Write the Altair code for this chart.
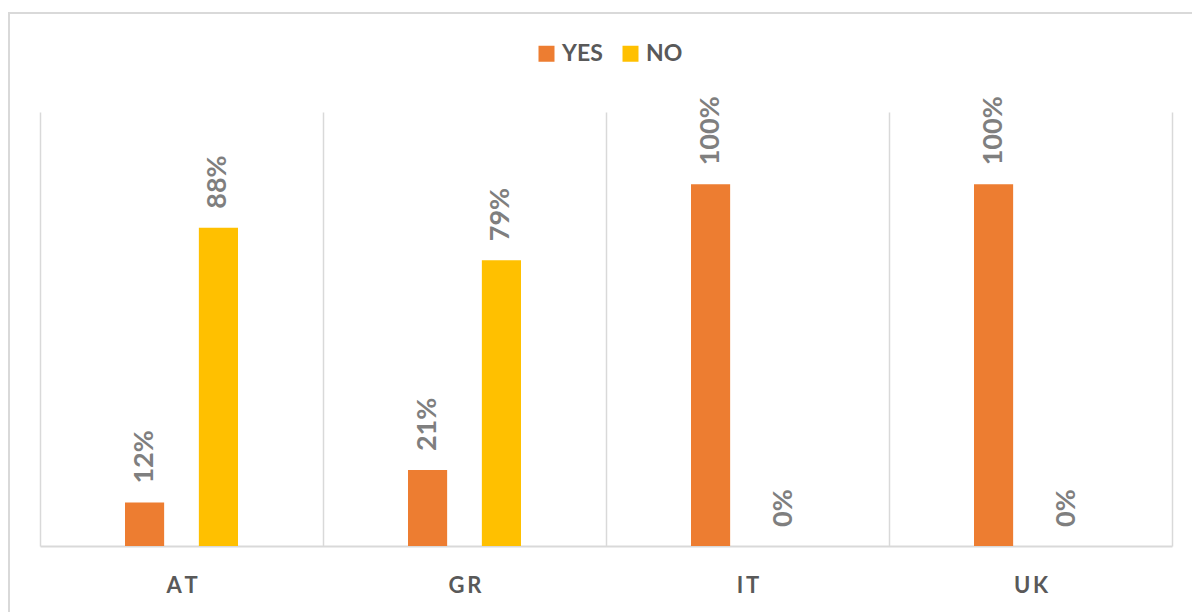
import altair as alt
import pandas as pd

countries = ["AT", "GR", "IT", "UK"]
series = ["YES", "NO"]
yes_vals = [12, 21, 100, 100]
no_vals = [88, 79, 0, 0]
colors = ["#ED7D31", "#FFC000"]

rows = []
for i, c in enumerate(countries):
    rows.append({"country": c, "series": "YES", "value": yes_vals[i] / 100, "label": f"{yes_vals[i]}%"})
    rows.append({"country": c, "series": "NO", "value": no_vals[i] / 100, "label": f"{no_vals[i]}%"})
df = pd.DataFrame(rows)

FONT = "Lato"

x_enc = alt.X(
    "country:N",
    sort=countries,
    title=None,
    scale=alt.Scale(paddingInner=0, paddingOuter=0),
    axis=alt.Axis(
        labelAngle=0,
        labelFont=FONT,
        labelFontSize=22,
        labelFontWeight="bold",
        labelColor="#595959",
        labelPadding=29,
        labelExpr="join(split(datum.label, ''), '\u2009')",
        ticks=False,
        domainColor="#d9d9d9",
        domainWidth=2,
        grid=True,
        gridColor="#d9d9d9",
        gridWidth=1.5,
        tickBand="extent",
    ),
)
xoff = alt.XOffset("series:N", sort=series,
                   scale=alt.Scale(range=[85, 198], paddingInner=0.47, paddingOuter=0))
y_enc = alt.Y("value:Q", scale=alt.Scale(domain=[0, 1.2]), axis=None)

bars = alt.Chart(df).mark_bar().encode(
    x=x_enc,
    xOffset=xoff,
    y=y_enc,
    color=alt.Color(
        "series:N",
        sort=series,
        scale=alt.Scale(domain=series, range=colors),
        legend=alt.Legend(
            title=None,
            orient="none",
            legendX=495,
            legendY=-70,
            direction="horizontal",
            symbolType="square",
            symbolSize=256,
            symbolStrokeWidth=0,
            labelFont=FONT,
            labelFontSize=23,
            labelFontWeight="bold",
            labelColor="#595959",
            columnPadding=16,
            labelOffset=4,
        ),
    ),
)

labels = alt.Chart(df).mark_text(
    angle=270,
    align="left",
    baseline="middle",
    dx=19,
    font=FONT,
    fontSize=27,
    fontWeight="bold",
    color="#7f7f7f",
).encode(
    x=alt.X("country:N", sort=countries),
    xOffset=alt.XOffset("series:N", sort=series),
    y=alt.Y("value:Q"),
    text="label:N",
)

border = alt.Chart(alt.Data(values=[{}])).mark_rect(
    fillOpacity=0, stroke="#d9d9d9", strokeWidth=2, clip=False
).encode(
    x=alt.value(-31), x2=alt.value(1200), y=alt.value(-99), y2=alt.value(600)
)

chart = alt.layer(border, bars, labels).properties(
    width=1132,
    height=434,
    autosize=alt.AutoSizeParams(type="none"),
    padding={"left": 40, "top": 112, "right": 20, "bottom": 66},
    background="white",
).configure_view(stroke=None)

chart.save("out.html", embed_options={"renderer": "svg", "actions": False})
